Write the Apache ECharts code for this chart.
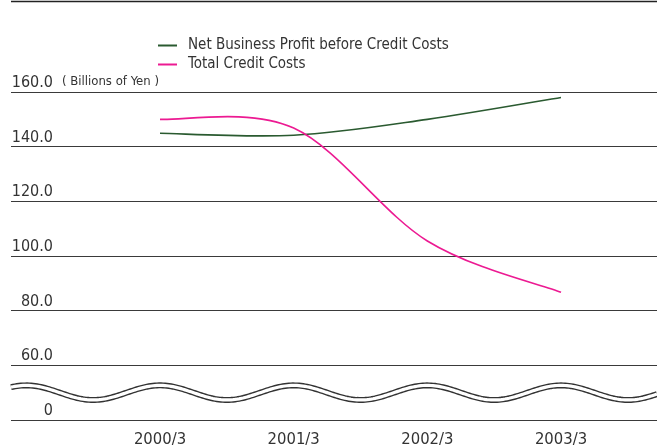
<!DOCTYPE html>
<html>
<head>
<meta charset="utf-8">
<script src="https://cdn.jsdelivr.net/npm/echarts@6/dist/echarts.min.js"></script>
<style>
  html, body { margin: 0; padding: 0; background: #fff; }
  #chart { width: 657px; height: 448px; }
</style>
</head>
<body>
<div id="chart"></div>
<script>
var chart = echarts.init(document.getElementById('chart'));

// fiscal year ends
var years = ['2000/3', '2001/3', '2002/3', '2003/3'];
// billions of yen
var netProfit = [144.9, 144.2, 150.0, 158.0];
var creditCosts = [150.0, 146.8, 105.5, 86.7];
// axis 40 is drawn as the broken "0"
var yTicks = [40, 60, 80, 100, 120, 140, 160];
var yTickText = ['0', '60.0', '80.0', '100.0', '120.0', '140.0', '160.0'];

var font = '"DejaVu Sans Condensed", "Liberation Sans Narrow", sans-serif';

function pairs(arr) {
  return arr.map(function (v, i) { return [i, v]; });
}

// spline through the points (tension 1/6), like the spreadsheet smoothing
function splineSeries(name, arr, color) {
  return {
    name: name,
    type: 'custom',
    data: pairs(arr),
    itemStyle: { color: color },
    renderItem: function (params, api) {
      if (params.dataIndex !== 0) return;
      var p = arr.map(function (v, i) { return api.coord([i, v]); });
      var n = p.length;
      var d = 'M' + p[0][0] + ' ' + p[0][1];
      for (var i = 0; i < n - 1; i++) {
        var a = p[Math.max(i - 1, 0)], b = p[i], c = p[i + 1], e = p[Math.min(i + 2, n - 1)];
        var c1x = b[0] + (c[0] - a[0]) / 6, c1y = b[1] + (c[1] - a[1]) / 6;
        var c2x = c[0] - (e[0] - b[0]) / 6, c2y = c[1] - (e[1] - b[1]) / 6;
        d += ' C' + c1x + ' ' + c1y + ' ' + c2x + ' ' + c2y + ' ' + c[0] + ' ' + c[1];
      }
      return {
        type: 'path',
        shape: { pathData: d },
        style: { stroke: color, lineWidth: 1.6, fill: 'none' }
      };
    }
  };
}

var option = {
  animation: false,
  grid: { left: 11, right: 0, top: 92, bottom: 27 },
  legend: {
    orient: 'vertical',
    left: 153,
    top: 33,
    itemWidth: 19,
    itemHeight: 2,
    itemGap: 4,
    icon: 'rect',
    textStyle: { fontFamily: font, fontSize: 15, color: '#333', padding: [0, 0, 0, 6] },
    data: ['Net Business Profit before Credit Costs', 'Total Credit Costs']
  },
  xAxis: {
    type: 'value',
    min: -1.1147,
    max: 3.718,
    splitLine: { show: false },
    axisLine: { show: false },
    axisTick: { show: false },
    axisLabel: {
      customValues: [0, 1, 2, 3],
      formatter: function (v) { return years[Math.round(v)]; },
      fontFamily: font, fontSize: 16.5, color: '#333', margin: 11
    }
  },
  yAxis: {
    type: 'value',
    min: 40,
    max: 160,
    interval: 20,
    axisLine: { show: false },
    axisTick: { show: false },
    splitLine: { lineStyle: { color: '#3a3a3a', width: 1 } },
    axisLabel: {
      inside: true,
      align: 'right',
      verticalAlign: 'bottom',
      margin: 42,
      padding: [0, 0, 1, 0],
      fontFamily: font, fontSize: 16, color: '#333',
      formatter: function (v) { return yTickText[yTicks.indexOf(v)]; }
    }
  },
  series: [
    splineSeries('Net Business Profit before Credit Costs', netProfit, '#2a5a30'),
    splineSeries('Total Credit Costs', creditCosts, '#ec1a92')
  ]
};
chart.setOption(option);

// decorations: top rule, axis-break wave, unit note
var yTop = chart.convertToPixel({ yAxisIndex: 0 }, 160);
var yMid = chart.convertToPixel({ yAxisIndex: 0 }, 50);
var x0 = chart.convertToPixel({ xAxisIndex: 0 }, 0);
var period = chart.convertToPixel({ xAxisIndex: 0 }, 1) - x0;
var wave = [];
for (var x = 11; x <= 657; x += 2) {
  wave.push([x, yMid - 7.3 * Math.cos(2 * Math.PI * (x - x0) / period)]);
}
chart.setOption({
  graphic: [
    { type: 'line', shape: { x1: 11, y1: 1.5, x2: 657, y2: 1.5 }, style: { stroke: '#222', lineWidth: 1.5 } },
    { type: 'polyline', shape: { points: wave }, style: { stroke: '#333', lineWidth: 6, fill: null } },
    { type: 'polyline', shape: { points: wave }, style: { stroke: '#fff', lineWidth: 3.2, fill: null } },
    {
      type: 'text', left: 62, top: yTop - 17,
      style: { text: '( Billions of Yen )', font: '13px ' + font, fill: '#333' }
    }
  ]
});
</script>
</body>
</html>
